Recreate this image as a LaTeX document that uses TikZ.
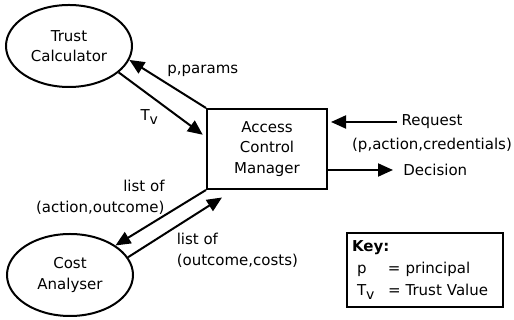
\documentclass[tikz,border=0pt]{standalone}
\usepackage{fontspec}
\setmainfont{DejaVu Sans}
\usetikzlibrary{positioning}
\usetikzlibrary{shapes.geometric}
\usetikzlibrary{arrows.meta}

\newcommand{\tvsym}{T\raisebox{-4.5pt}{\fontsize{14}{14}\selectfont v}}

\begin{document}
\begin{tikzpicture}[x=1pt, y=1pt, line width=2pt,
    every node/.style={font=\fontsize{15}{20.5}\selectfont},
    >={Triangle[length=15pt,width=13pt]},
    blob/.style={ellipse, draw, align=center, inner sep=0pt, minimum width=126pt, minimum height=82pt},
    mgr/.style={rectangle, draw, align=center, inner sep=0pt, minimum width=120pt, minimum height=80pt},
    keybox/.style={rectangle, draw, align=left, inner sep=5pt, text width=146pt, minimum height=74pt}]
  \useasboundingbox (0,0) rectangle (514,320);
  % components
  \node[blob] (trust) at (69,274)  {Trust\\Calculator};
  \node[blob] (cost)  at (70,45)   {Cost\\Analyser};
  \node[mgr]  (acm)   at (267,171) {Access\\Control\\Manager};
  % request and decision
  \node (req) at (432,198) {Request};
  \node (reqargs) [below=0.5pt of req] {(p,action,credentials)};
  \node[anchor=west] (dec) at (399,150) {Decision};
  % key
  \node[keybox] (key) at (425,50) {\textbf{Key:}\\[1.5pt]
    \hspace*{5pt}\makebox[31pt][l]{p}= principal\\[1.5pt]
    \hspace*{5pt}\makebox[31pt][l]{\tvsym}= Trust Value};
  \path[->] (acm.north west) edge node[pos=0.56, anchor=south west] {p,params} (trust.-13)
            (trust.-28) edge [shorten >=4pt] node[pos=0.5, anchor=north east] {\tvsym} (acm.169)
            (acm.south west) edge node[pos=0.41, anchor=south east, align=right, yshift=-6pt] {list of\\(action,outcome)} (cost.33)
            (cost.17) edge [shorten >=14pt] node[pos=0.42, anchor=north west, align=left] {list of\\(outcome,costs)} (acm.231)
            (req.west) edge [shorten >=3pt] (acm.east |- req.west)
            (acm.east |- dec.west) edge [shorten >=6pt] (dec.west);
\end{tikzpicture}
\end{document}
